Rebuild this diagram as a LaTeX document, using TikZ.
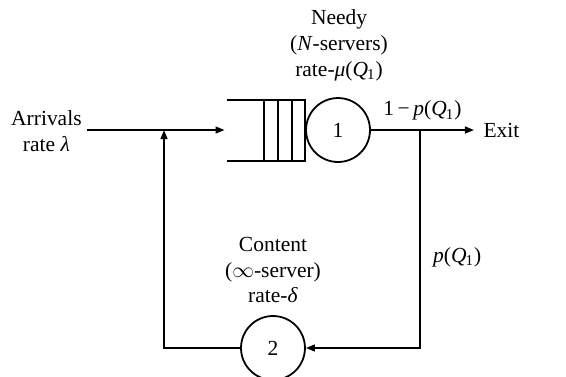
\documentclass[tikz,border=0pt]{standalone}
\usepackage{amsmath}
\usepackage{fontspec}
\setmainfont{Liberation Serif}
\usepackage{tikz}
\usetikzlibrary{arrows.meta, positioning, calc}
\newcommand{\vi}[1]{\textit{#1}}
\newcommand{\qone}{\vi{Q}\kern-0.5pt\textsubscript{1}}

\begin{document}
\begin{tikzpicture}[
    >={Triangle[length=1.6mm, width=1.2mm]},
    line width=0.9pt,
    server/.style={draw, circle, minimum size=1.13cm, inner sep=0pt},
    lbl/.style={align=center, font=\fontsize{10.8pt}{13pt}\selectfont}
  ]
    \useasboundingbox (0,0) rectangle (10,6.643);
    \begin{scope}
    \node[lbl] (arr) at (0.82,4.32) {Arrivals\\rate \vi{λ}};
    \coordinate (src) at (1.537,4.346);
    \coordinate (qin) at (4.01,4.346);
    \coordinate (join) at (2.898,4.346);
    \draw (4.01,4.876) -- (5.389,4.876) -- (5.389,3.799) -- (4.01,3.799);
    \foreach \x in {4.664, 4.912, 5.159}
        \draw (\x,4.876) -- (\x,3.799);
    \node[server, lbl] (s1) at (5.972,4.346) {1};
    \node[server, lbl] (s2) at (4.823,0.495) {2};
    \node[lbl] (needy) at (5.99,5.848) {Needy\\(\vi{N}-servers)\\rate-\vi{μ}(\qone)};
    \node[lbl] (cont) at (4.823,1.873) {Content\\($\infty$-server)\\rate-\vi{δ}};
    \node[lbl, anchor=west] (exit) at (8.41,4.346) {Exit};
    \coordinate (split) at (7.42,4.346);
    \draw[->] (src) -- ([xshift=-1.2pt]qin);
    \draw[->] (s1.east) -- node[lbl, above=1pt] (pout) {1\,−\,\vi{p}(\qone)} ([xshift=-1pt]exit.west);
    \draw[->] (split) |- (s2.east);
    \node[lbl, anchor=west] (pback) at (7.52,2.10) {\vi{p}(\qone)};
    \draw[->] (s2.west) -| (join);
    \end{scope}
\end{tikzpicture}
\end{document}
